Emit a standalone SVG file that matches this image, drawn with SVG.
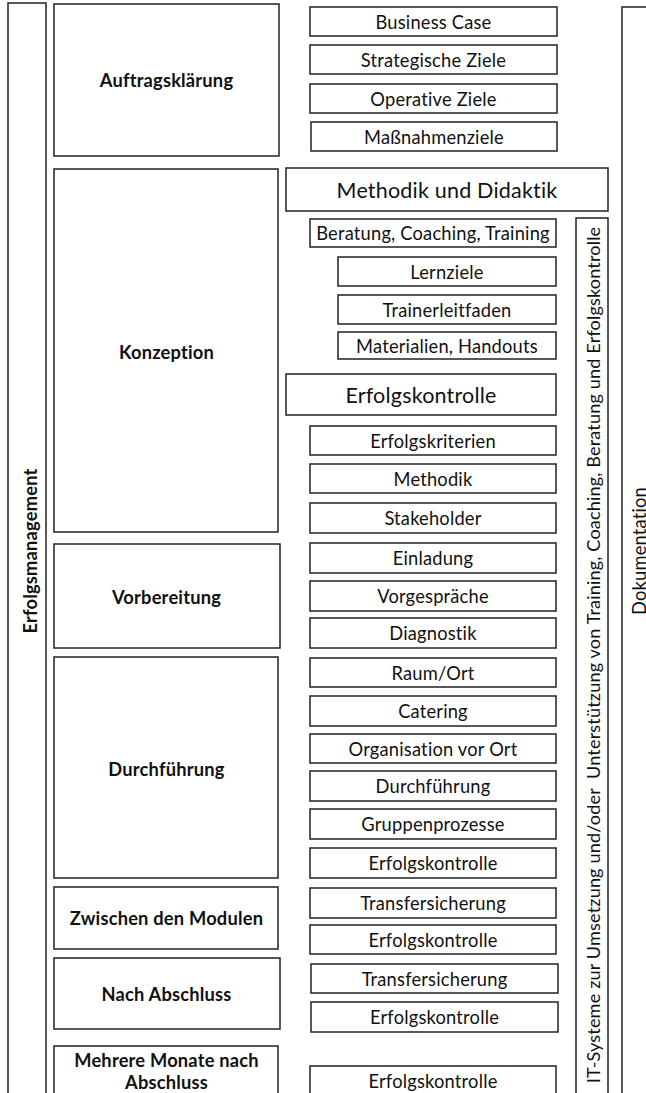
<svg xmlns="http://www.w3.org/2000/svg" width="646" height="1093" viewBox="0 0 646 1093">
<style>
rect{fill:#fff;stroke:#222;stroke-width:1.5}
text{font-family:Lato,"Open Sans","Liberation Sans",sans-serif;fill:#111;text-anchor:middle;dominant-baseline:central}
.b{font-weight:bold;font-size:18.3px;letter-spacing:0.2px}
.s{font-size:18.3px;letter-spacing:0.2px}
.l{font-size:21.5px;letter-spacing:0.2px}
.v{font-size:18.3px;letter-spacing:0.2px}
.it{font-size:18.1px;letter-spacing:0.15px}
.vb{font-weight:bold;font-size:18.3px;letter-spacing:0.2px}
</style>
<rect width="646" height="1093" style="fill:#fff;stroke:none"/>
<g id="erfolgsmanagement"><rect x="8" y="3" width="38" height="1100"/><text class="vb" transform="translate(30,551) rotate(-90)">Erfolgsmanagement</text></g>
<g id="dokumentation"><rect x="622" y="7" width="40" height="1100"/><text class="v" transform="translate(639,551) rotate(-90)">Dokumentation</text></g>
<g id="it"><rect x="576" y="218" width="32" height="890"/><text class="it" transform="translate(593,655) rotate(-90)" xml:space="preserve">IT-Systeme zur Umsetzung und/oder  Unterstützung von Training, Coaching, Beratung und Erfolgskontrolle</text></g>

<g id="phase-auftrag"><rect x="54" y="4" width="225" height="152"/><text class="b" x="166.5" y="80">Auftragsklärung</text></g>
<g id="phase-konzeption"><rect x="54" y="169" width="224" height="363"/><text class="b" x="166.5" y="352">Konzeption</text></g>
<g id="phase-vorbereitung"><rect x="54" y="544" width="226" height="104"/><text class="b" x="166.5" y="597">Vorbereitung</text></g>
<g id="phase-durchfuehrung"><rect x="54" y="657" width="224" height="221"/><text class="b" x="166.5" y="769">Durchführung</text></g>
<g id="phase-zwischen"><rect x="54" y="887" width="224" height="62"/><text class="b" x="166.5" y="918">Zwischen den Modulen</text></g>
<g id="phase-nach"><rect x="54" y="958" width="226" height="71"/><text class="b" x="166.5" y="994">Nach Abschluss</text></g>
<g id="phase-mehrere"><rect x="54" y="1046" width="224" height="60"/><text class="b" x="166.5" y="1060">Mehrere Monate nach</text><text class="b" x="166.5" y="1082">Abschluss</text></g>

<g id="n1"><rect x="310" y="7" width="247" height="29"/><text class="s" x="433.5" y="21.5">Business Case</text></g>
<g id="n2"><rect x="310" y="45" width="247" height="29"/><text class="s" x="433.5" y="59.5">Strategische Ziele</text></g>
<g id="n3"><rect x="310" y="84" width="247" height="29"/><text class="s" x="433.5" y="98.5">Operative Ziele</text></g>
<g id="n4"><rect x="311" y="122" width="246" height="29"/><text class="s" x="434" y="136.5">Maßnahmenziele</text></g>
<g id="n5"><rect x="286" y="168" width="322" height="43"/><text class="l" x="447" y="189.5">Methodik und Didaktik</text></g>
<g id="n6"><rect x="310" y="219" width="246" height="28"/><text class="s" x="433" y="233">Beratung, Coaching, Training</text></g>
<g id="n7"><rect x="338" y="257" width="218" height="29"/><text class="s" x="447" y="271.5">Lernziele</text></g>
<g id="n8"><rect x="338" y="295" width="218" height="29"/><text class="s" x="447" y="309.5">Trainerleitfaden</text></g>
<g id="n9"><rect x="338" y="332" width="218" height="27"/><text class="s" x="447" y="345.5">Materialien, Handouts</text></g>
<g id="n10"><rect x="286" y="374" width="270" height="41"/><text class="l" x="421" y="394.5">Erfolgskontrolle</text></g>
<g id="n11"><rect x="310" y="426" width="246" height="29"/><text class="s" x="433" y="440.5">Erfolgskriterien</text></g>
<g id="n12"><rect x="310" y="464" width="246" height="29"/><text class="s" x="433" y="478.5">Methodik</text></g>
<g id="n13"><rect x="310" y="503" width="246" height="30"/><text class="s" x="433" y="518">Stakeholder</text></g>
<g id="n14"><rect x="310" y="543" width="246" height="30"/><text class="s" x="433" y="558">Einladung</text></g>
<g id="n15"><rect x="310" y="581" width="246" height="30"/><text class="s" x="433" y="596">Vorgespräche</text></g>
<g id="n16"><rect x="310" y="618" width="246" height="30"/><text class="s" x="433" y="633">Diagnostik</text></g>
<g id="n17"><rect x="310" y="658" width="246" height="29"/><text class="s" x="433" y="672.5">Raum/Ort</text></g>
<g id="n18"><rect x="310" y="696" width="246" height="30"/><text class="s" x="433" y="711">Catering</text></g>
<g id="n19"><rect x="310" y="734" width="246" height="29"/><text class="s" x="433" y="748.5">Organisation vor Ort</text></g>
<g id="n20"><rect x="310" y="771" width="246" height="30"/><text class="s" x="433" y="786">Durchführung</text></g>
<g id="n21"><rect x="310" y="809" width="246" height="30"/><text class="s" x="433" y="824">Gruppenprozesse</text></g>
<g id="n22"><rect x="310" y="848" width="246" height="30"/><text class="s" x="433" y="863">Erfolgskontrolle</text></g>
<g id="n23"><rect x="310" y="888" width="246" height="30"/><text class="s" x="433" y="903">Transfersicherung</text></g>
<g id="n24"><rect x="310" y="925" width="246" height="29"/><text class="s" x="433" y="939.5">Erfolgskontrolle</text></g>
<g id="n25"><rect x="311" y="964" width="247" height="29"/><text class="s" x="434.5" y="978.5">Transfersicherung</text></g>
<g id="n26"><rect x="311" y="1002" width="247" height="30"/><text class="s" x="434.5" y="1017">Erfolgskontrolle</text></g>
<g id="n27"><rect x="310" y="1066" width="246" height="40"/><text class="s" x="433" y="1081">Erfolgskontrolle</text></g>
<g id="connectors"/>
</svg>
